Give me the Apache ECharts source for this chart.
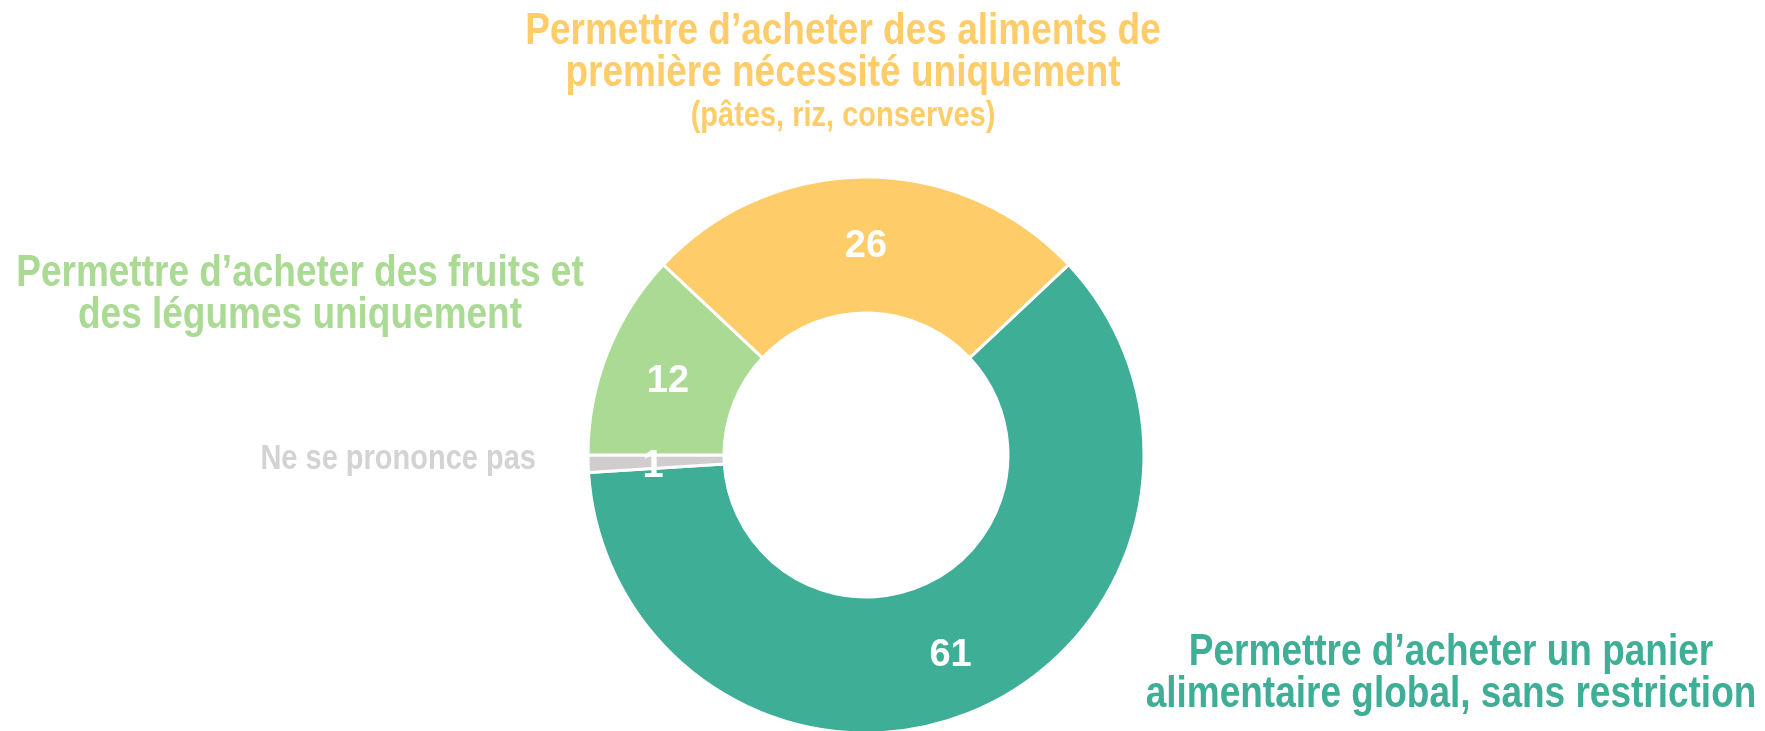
<!DOCTYPE html>
<html>
<head>
<meta charset="utf-8">
<script src="https://cdn.jsdelivr.net/npm/echarts@6/dist/echarts.min.js"></script>
<style>
  html, body { margin: 0; padding: 0; background: #fff; }
  #chart { width: 1765px; height: 731px; }
</style>
</head>
<body>
<div id="chart"></div>
<script>
// clockwise order, starting at the teal slice
const categories = [
  'Permettre d\u2019acheter un panier\nalimentaire global, sans restriction',
  'Ne se prononce pas',
  'Permettre d\u2019acheter des fruits et\ndes légumes uniquement',
  'Permettre d\u2019acheter des aliments de\npremière nécessité uniquement'
]
const subLabels = ['', '', '', '(pâtes, riz, conserves)']
const values = [61, 1, 12, 26]
const colors = ['#3EAE96', '#CFCDCE', '#AADA93', '#FECC69']
const textColors = ['#3EAE96', '#D3D3D3', '#AADA93', '#FECC69']

// where each outside label sits (pixels)
const labelPos = [
  { x: 1451, y: 674, align: 'center' },
  { x: 536, y: 459, align: 'right', size: 29 },
  { x: 300, y: 295, align: 'center' },
  { x: 843, y: 53, align: 'center', sub: { y: 116, size: 29 } }
]

// the source text is a bit taller than it is wide
const stretch = 1.2

const chart = echarts.init(document.getElementById('chart'))

const graphics = []
categories.forEach((name, i) => {
  const p = labelPos[i]
  graphics.push({
    type: 'text',
    x: p.x,
    y: p.y,
    scaleY: stretch,
    style: {
      text: name,
      fill: textColors[i],
      font: `bold ${p.size || 37}px "Liberation Sans", Arial, sans-serif`,
      lineHeight: 35,
      align: p.align,
      verticalAlign: 'middle'
    }
  })
  if (subLabels[i]) {
    graphics.push({
      type: 'text',
      x: p.x,
      y: p.sub.y,
      scaleY: stretch,
      style: {
        text: subLabels[i],
        fill: textColors[i],
        font: `bold ${p.sub.size}px "Liberation Sans", Arial, sans-serif`,
        align: 'center',
        verticalAlign: 'middle'
      }
    })
  }
})

chart.setOption({
  animation: false,
  graphic: graphics,
  series: [
    {
      type: 'pie',
      center: [866, 455],
      radius: [142, 278],
      startAngle: 43.2,
      clockwise: true,
      avoidLabelOverlap: false,
      itemStyle: {
        borderColor: '#ffffff',
        borderWidth: 3
      },
      label: {
        show: true,
        position: 'inside',
        formatter: '{c}',
        color: '#ffffff',
        fontFamily: '"Liberation Sans", Arial, sans-serif',
        fontWeight: 'bold',
        fontSize: 38,
        offset: [0, 5]
      },
      labelLine: { show: false },
      emphasis: { disabled: true },
      data: values.map((v, i) => ({
        value: v,
        name: categories[i],
        itemStyle: { color: colors[i] }
      }))
    }
  ]
})

window.addEventListener('resize', () => chart.resize())
</script>
</body>
</html>
